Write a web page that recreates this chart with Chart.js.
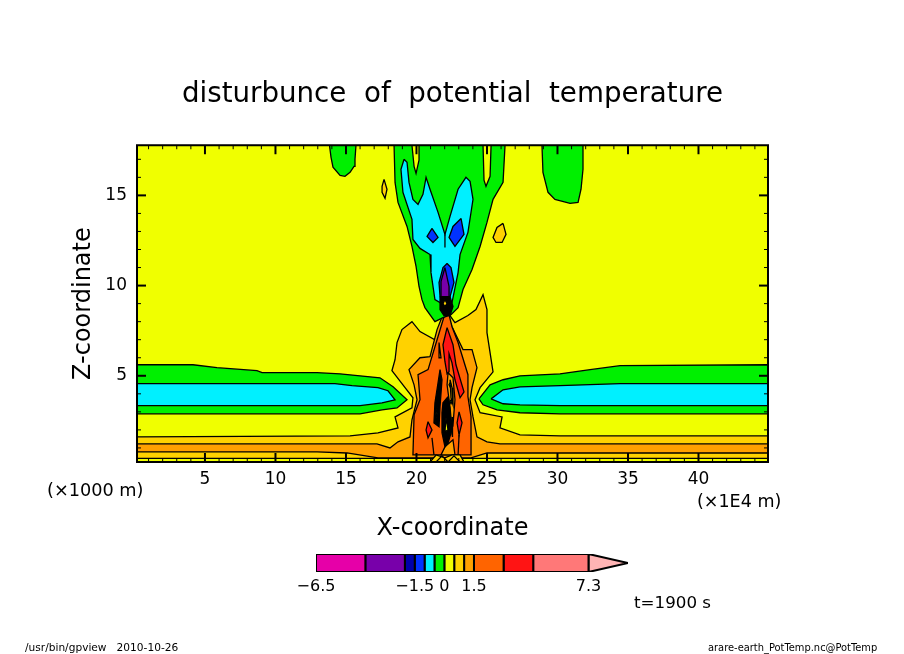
<!DOCTYPE html>
<html>
<head>
<meta charset="utf-8">
<title>disturbunce of potential temperature</title>
<script src="https://cdn.jsdelivr.net/npm/chart.js@4"></script>
<style>
  html, body { margin: 0; background: #fff; }
  canvas { position: absolute; left: 0; top: 0; }
</style>
</head>
<body>
<canvas id="contourChart" width="904" height="654"></canvas>
<canvas id="colorBar" width="904" height="654"></canvas>
<script>
// axis ranges and ticks (x in 1E4 m, z in 1000 m)
const xRange = [0.18, 44.93];
const zRange = [0.22, 17.78];
const xTickValues = [5, 10, 15, 20, 25, 30, 35, 40];
const zTickValues = [5, 10, 15];

// contour levels and the colours between them
const levels = [-6.5, -4, -2, -1.5, -1, -0.5, 0, 0.5, 1, 1.5, 3, 4.5, 7.3];
const levelColors = ["#e600a8", "#7800aa", "#0000aa", "#0032ff", "#00f0ff", "#00f000",
  "#f0ff00", "#ffd200", "#ffa000", "#ff6400", "#ff1414", "#ff7878"];
const overColor = "#ffb4b4";
const barLabels = [-6.5, -1.5, 0, 1.5, 7.3];
const barEnd = 9.3;

const YELLOW = "#f0ff00", GREEN = "#00f000", CYAN = "#00f0ff", BLUE = "#0032ff";
const PURPLE = "#7800aa", GOLD = "#ffd200", AMBER = "#ffa000", ORANGE = "#ff6400", RED = "#ff1414", BLACK = "#000";

// contours, [x, z]
const goldMain = [[0.18,1.61],[15.29,1.67],[17.27,1.84],[18.69,2.11],[18.48,2.72],[19.68,3.22],[19.75,3.78],[19.04,4.5],[18.26,5.28],[18.48,5.89],[18.62,6.84],[18.97,7.56],[19.68,8.0],[20.25,7.45],[21.31,7.0],[21.67,7.84],[22.17,8.56],[22.73,7.95],[23.65,8.34],[24.22,8.67],[24.72,9.5],[25.0,8.67],[25.0,7.39],[25.43,5.22],[24.51,4.34],[24.15,3.67],[24.51,2.95],[26.07,2.72],[25.92,2.11],[27.34,1.72],[30.18,1.67],[44.93,1.67],[44.93,0.42],[0.18,0.42]];
const amberMain = [[0.18,1.22],[17.2,1.22],[18.12,1.0],[18.69,1.34],[19.54,1.61],[19.68,2.56],[20.04,3.67],[19.83,4.5],[19.47,5.34],[20.25,6.0],[20.96,6.06],[21.46,7.56],[22.02,8.67],[22.52,7.72],[23.3,6.45],[23.94,6.45],[24.29,5.45],[23.94,4.34],[23.8,3.67],[24.01,2.72],[24.29,1.61],[25.0,1.34],[25.92,1.22],[44.93,1.22],[44.93,0.72],[25.0,0.72],[23.87,0.45],[17.27,0.45],[15.07,0.72],[12.95,0.78],[0.18,0.78]];
const orangeMain = [[22.17,8.84],[21.46,7.0],[20.82,5.34],[20.11,5.06],[20.25,3.67],[19.83,2.84],[19.75,0.61],[21.31,0.61],[22.95,0.61],[23.87,0.61],[23.87,2.72],[23.65,3.84],[23.65,5.06],[22.95,6.84],[22.52,7.72]];
const redMain = [[22.17,7.67],[22.59,6.72],[22.8,5.61],[23.37,4.11],[23.09,3.78],[22.73,4.78],[22.52,5.72],[22.31,6.22],[22.31,5.22],[22.17,5.11],[22.02,5.78],[21.88,6.72]];
const redLeft = [[20.82,2.45],[21.1,2.0],[20.82,1.56],[20.68,2.0]];
const redRight = [[23.02,3.0],[23.23,2.39],[23.02,1.72],[22.88,2.39]];
const greenLeftBand = [[0.18,5.61],[4.15,5.61],[5.85,5.45],[8.69,5.28],[9.05,5.17],[12.95,5.17],[14.58,5.11],[16.0,5.0],[17.41,4.89],[18.34,4.39],[19.33,3.67],[18.62,3.22],[17.56,3.11],[16.0,2.89],[0.18,2.89]];
const cyanLeftBand = [[0.18,4.56],[14.22,4.56],[15.43,4.45],[17.27,4.34],[17.98,4.17],[18.48,3.67],[17.56,3.5],[16.0,3.34],[0.18,3.34]];
const greenRightBand = [[24.43,3.72],[25.22,4.5],[26.14,4.78],[27.34,5.0],[30.18,5.11],[32.31,5.34],[34.44,5.56],[44.93,5.61],[44.93,2.89],[30.18,2.89],[27.34,2.95],[25.71,3.11],[24.72,3.39]];
const cyanRightBand = [[25.29,3.72],[26.14,4.22],[27.34,4.39],[30.18,4.45],[34.44,4.56],[44.93,4.56],[44.93,3.34],[30.18,3.34],[27.34,3.39],[26.14,3.45]];
const greenTopLeft = [[13.83,17.78],[13.94,17.11],[14.08,16.56],[14.58,16.11],[14.93,16.06],[15.29,16.28],[15.57,16.61],[15.64,17.0],[15.71,17.78]];
const greenTopRight = [[28.9,17.78],[28.97,16.28],[29.33,15.17],[29.82,14.78],[30.89,14.56],[31.46,14.61],[31.67,15.34],[31.81,16.45],[31.81,17.78]];
const greenCentre = [[18.41,17.78],[18.48,15.72],[18.69,14.61],[19.33,13.28],[19.68,12.17],[19.97,11.06],[20.18,9.95],[20.39,9.22],[20.6,8.78],[21.31,8.0],[21.88,8.22],[22.45,8.39],[22.95,8.78],[23.3,9.78],[23.94,10.89],[24.51,12.17],[25.0,13.5],[25.43,14.78],[26.14,15.72],[26.28,17.78]];
const yellowSlotLeft = [[19.68,17.78],[19.83,16.61],[19.97,16.22],[20.18,16.95],[20.18,17.78]];
const yellowSlotRight = [[24.72,17.78],[24.79,15.84],[24.93,15.5],[25.22,16.06],[25.29,17.78]];
const cyanCentre = [[19.12,17.0],[18.9,16.45],[19.04,15.17],[19.68,13.67],[19.75,12.56],[20.25,12.06],[20.96,11.72],[21.03,10.72],[21.31,9.22],[21.67,9.06],[22.52,9.06],[22.95,10.72],[23.09,11.72],[23.65,12.95],[24.01,14.78],[23.8,15.78],[23.51,16.0],[22.95,15.34],[22.38,13.84],[22.02,12.84],[21.53,14.06],[20.96,15.34],[20.68,16.0],[20.46,15.06],[20.11,14.5],[19.75,14.78],[19.47,15.72],[19.33,16.84]];
const cyanSlit = [[22.02,12.84],[22.02,12.11]];
const blueSmall = [[21.1,13.17],[21.53,12.67],[21.17,12.39],[20.75,12.72]];
const blueRight = [[23.16,13.72],[23.37,12.84],[22.73,12.17],[22.31,12.67],[22.59,13.28]];
const blueCentre = [[22.17,11.22],[22.45,11.0],[22.66,10.17],[22.38,9.39],[21.67,9.39],[21.6,10.17],[21.88,11.0]];
const purpleCentre = [[22.02,11.0],[22.31,9.95],[22.31,9.39],[21.74,9.39],[21.74,10.22]];
const goldSmallLeft = [[17.7,15.89],[17.91,15.34],[17.77,14.84],[17.56,15.17],[17.56,15.5]];
const goldSmallRight = [[26.14,13.45],[26.35,12.84],[26.07,12.39],[25.64,12.39],[25.43,12.67],[25.71,13.22]];
const blackTop = [[21.67,9.39],[22.38,9.39],[22.59,8.84],[22.38,8.34],[21.95,8.34],[21.67,8.67]];
const goldTopDot = [[22.02,9.22],[22.17,9.0],[22.02,8.84],[21.88,9.0]];
const blackLeft = [[21.67,5.34],[21.81,4.78],[21.67,3.28],[21.6,2.17],[21.24,2.39],[21.31,3.5],[21.53,4.61]];
const yellowLeft = [[21.53,3.28],[21.46,2.84],[21.31,2.45],[21.39,3.0]];
const blackCentre = [[22.24,3.84],[22.38,3.28],[22.52,2.0],[22.24,1.28],[22.02,1.06],[21.81,1.84],[21.81,2.95],[21.88,3.5]];
const amberColumn = [[22.24,5.17],[22.59,4.89],[22.73,3.67],[22.59,2.28],[22.38,2.56],[22.31,3.67],[22.17,4.5]];
const goldColumn = [[22.38,4.78],[22.52,4.34],[22.59,3.39],[22.45,3.78]];
const amberFoot = [[22.02,1.06],[22.59,1.45],[22.73,0.61],[21.74,0.61]];
const greenDotUpper = [[22.38,4.61],[22.45,4.5],[22.38,4.39],[22.31,4.5]];
const greenDotLower = [[22.45,3.67],[22.52,3.56],[22.45,3.45],[22.38,3.56]];
const yellowCentre = [[22.09,2.67],[22.24,2.0],[22.02,1.89]];
const yellowRight = [[22.52,2.72],[22.59,2.28],[22.52,1.61],[22.45,2.11]];
const amberSlit = [[21.6,6.84],[21.74,6.0],[21.6,6.0]];
const goldArch = [[20.96,0.22],[21.39,0.61],[22.02,0.45],[22.52,0.61],[23.09,0.61],[23.37,0.22]];
const archCross = [[21.39,0.22],[21.81,0.56],[22.24,0.22],[22.66,0.56],[23.09,0.22]];
const orangeSeamLeft = [[21.1,1.56],[21.24,0.61]];
const orangeSeamRight = [[23.02,1.72],[22.95,0.61]];

function contour(points, color, width) {
  const data = points.concat([points[0]]).map((p) => ({ x: p[0], y: p[1] }));
  return { data, showLine: true, fill: "shape", backgroundColor: color, borderColor: "#000", borderWidth: width || 1.3, pointRadius: 0, tension: 0 };
}

function seam(points) {
  return { data: points.map((p) => ({ x: p[0], y: p[1] })), showLine: true, fill: false, borderColor: "#000", borderWidth: 1.3, pointRadius: 0, tension: 0 };
}

const background = [[xRange[0], zRange[0]], [xRange[1], zRange[0]], [xRange[1], zRange[1]], [xRange[0], zRange[1]]];

// painted from the bottom up
const layers = [
  contour(background, YELLOW),
  contour(goldMain, GOLD),
  contour(amberMain, AMBER),
  contour(orangeMain, ORANGE),
  contour(redMain, RED),
  contour(redLeft, RED),
  contour(redRight, RED),
  contour(amberSlit, AMBER),
  contour(amberFoot, AMBER),
  contour(amberColumn, AMBER),
  contour(goldColumn, GOLD),
  contour(blackLeft, BLACK),
  contour(yellowLeft, YELLOW),
  contour(blackCentre, BLACK),
  contour(greenDotUpper, GREEN),
  contour(greenDotLower, GREEN),
  contour(yellowCentre, YELLOW),
  contour(yellowRight, YELLOW),
  contour(goldArch, GOLD),
  seam(archCross),
  seam(orangeSeamLeft),
  seam(orangeSeamRight),
  contour(greenLeftBand, GREEN),
  contour(cyanLeftBand, CYAN),
  contour(greenRightBand, GREEN),
  contour(cyanRightBand, CYAN),
  contour(greenTopLeft, GREEN),
  contour(greenTopRight, GREEN),
  contour(greenCentre, GREEN),
  contour(yellowSlotLeft, YELLOW),
  contour(yellowSlotRight, YELLOW),
  contour(cyanCentre, CYAN),
  seam(cyanSlit),
  contour(blueSmall, BLUE),
  contour(blueRight, BLUE),
  contour(blueCentre, BLUE),
  contour(purpleCentre, PURPLE),
  contour(goldSmallLeft, GOLD),
  contour(goldSmallRight, GOLD),
  contour(blackTop, BLACK),
  contour(goldTopDot, GOLD),
];

const FONT = "'DejaVu Sans'";

// loose labels around the plot
const notes = [
  { text: "(×1000 m)", x: 47, y: 491, size: 17.7 },
  { text: "(×1E4 m)", x: 697, y: 502, size: 17.5 },
  { text: "t=1900 s", x: 634, y: 604, size: 16.7 },
  { text: "/usr/bin/gpview   2010-10-26", x: 25, y: 648, size: 10.6 },
  { text: "arare-earth_PotTemp.nc@PotTemp", x: 708, y: 648, size: 9.9 },
];

// frame and inward ticks on all four sides
const frameTicks = {
  id: "frameTicks",
  afterDatasetsDraw(chart) {
    const { ctx, chartArea: a, scales } = chart;
    ctx.save();
    ctx.strokeStyle = "#000";
    ctx.lineWidth = 2;
    ctx.strokeRect(a.left, a.top, a.right - a.left, a.bottom - a.top);
    const mark = (x1, y1, x2, y2, major) => {
      ctx.lineWidth = major ? 2 : 1;
      ctx.beginPath();
      ctx.moveTo(x1, y1);
      ctx.lineTo(x2, y2);
      ctx.stroke();
    };
    for (let v = 1; v <= 44; v++) {
      const px = scales.x.getPixelForValue(v);
      const major = v % 5 === 0;
      const len = major ? 9 : 4;
      mark(px, a.bottom, px, a.bottom - len, major);
      mark(px, a.top, px, a.top + len, major);
    }
    for (let v = 1; v <= 17; v++) {
      const py = scales.y.getPixelForValue(v);
      const major = v % 5 === 0;
      const len = major ? 9 : 4;
      mark(a.left, py, a.left + len, py, major);
      mark(a.right, py, a.right - len, py, major);
    }
    ctx.restore();
  },
  afterDraw(chart) {
    const { ctx } = chart;
    ctx.save();
    ctx.fillStyle = "#000";
    ctx.textBaseline = "middle";
    notes.forEach((n) => {
      ctx.font = `${n.size}px ${FONT}`;
      ctx.fillText(n.text, n.x, n.y);
    });
    ctx.restore();
  },
};

new Chart(document.getElementById("contourChart").getContext("2d"), {
  type: "scatter",
  data: { datasets: layers.slice().reverse() },
  plugins: [frameTicks],
  options: {
    responsive: false,
    animation: false,
    layout: { padding: { left: 69, right: 136, top: 78, bottom: 111 } },
    plugins: {
      legend: { display: false },
      tooltip: { enabled: false },
      title: {
        display: true,
        fullSize: false,
        text: "disturbunce  of  potential  temperature",
        color: "#000",
        font: { family: FONT, size: 27.7, weight: "normal" },
        padding: { top: 0, bottom: 34 },
      },
    },
    scales: {
      x: {
        type: "linear",
        min: xRange[0],
        max: xRange[1],
        grid: { display: false, drawTicks: false },
        border: { display: false },
        afterBuildTicks: (s) => { s.ticks = xTickValues.map((value) => ({ value })); },
        afterFit: (s) => { s.height = 81; },
        ticks: { color: "#000", font: { family: FONT, size: 17 }, padding: 7, maxRotation: 0, autoSkip: false },
        title: { display: true, text: "X-coordinate", color: "#000", font: { family: FONT, size: 24 }, padding: 0 },
      },
      y: {
        type: "linear",
        min: zRange[0],
        max: zRange[1],
        grid: { display: false, drawTicks: false },
        border: { display: false },
        afterBuildTicks: (s) => { s.ticks = zTickValues.map((value) => ({ value })); },
        afterFit: (s) => { s.width = 68; },
        ticks: { color: "#000", font: { family: FONT, size: 17 }, padding: 10, autoSkip: false },
        title: { display: true, text: "Z-coordinate", color: "#000", font: { family: FONT, size: 24 }, padding: 0 },
      },
    },
  },
});

// colour bar, one box per level band plus the over-range arrow
const barBoxes = levelColors.map((color, i) => contour(
  [[levels[i], 0], [levels[i + 1], 0], [levels[i + 1], 1], [levels[i], 1]], color, 2));
const lastLevel = levels[levels.length - 1];
const barArrow = contour([[lastLevel, 0], [barEnd, 0.5], [lastLevel, 1]], overColor, 2);

new Chart(document.getElementById("colorBar").getContext("2d"), {
  type: "scatter",
  data: { datasets: barBoxes.concat([barArrow]) },
  options: {
    responsive: false,
    animation: false,
    layout: { padding: { left: 316, right: 276, top: 554, bottom: 52 } },
    plugins: { legend: { display: false }, tooltip: { enabled: false } },
    scales: {
      x: {
        type: "linear",
        min: levels[0],
        max: barEnd,
        grid: { display: false, drawTicks: false },
        border: { display: false },
        afterBuildTicks: (s) => { s.ticks = barLabels.map((value) => ({ value })); },
        afterFit: (s) => { s.height = 30; },
        ticks: {
          color: "#000",
          font: { family: FONT, size: 16 },
          padding: 5,
          maxRotation: 0,
          autoSkip: false,
          callback: (v) => String(v).replace("-", "−"),
        },
      },
      y: { type: "linear", min: 0, max: 1, display: false },
    },
  },
});
</script>
</body>
</html>
